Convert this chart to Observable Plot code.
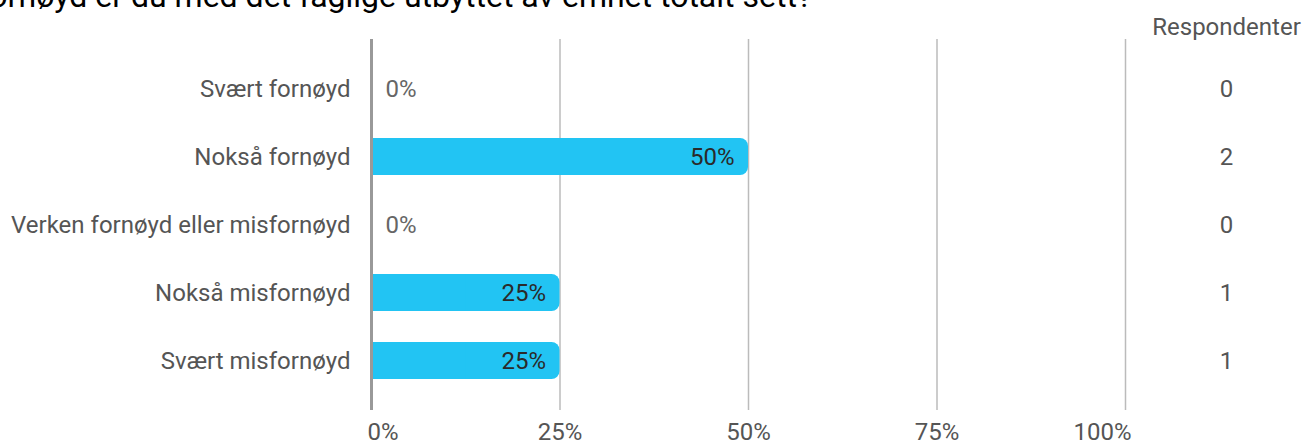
<!DOCTYPE html>
<html>
<head>
<meta charset="utf-8">
<script src="https://cdn.jsdelivr.net/npm/d3@7"></script>
<script src="https://cdn.jsdelivr.net/npm/@observablehq/plot@0.6"></script>
<style>
  html, body { margin: 0; padding: 0; background: #fff; overflow: hidden; }
  #wrap { position: relative; width: 1303px; height: 442px; overflow: hidden; }
  #title {
    position: absolute; right: 491px; top: -20px;
    font-family: Roboto, sans-serif; font-size: 32px; line-height: 32px;
    color: #000; white-space: nowrap;
  }
  #chart { position: absolute; left: 0; top: 0; }
</style>
</head>
<body>
<div id="wrap">
  <div id="chart"></div>
  <div id="title">Hvor fornøyd er du med det faglige utbyttet av emnet totalt sett?</div>
</div>
<script>
const categories = ["Svært fornøyd", "Nokså fornøyd", "Verken fornøyd eller misfornøyd", "Nokså misfornøyd", "Svært misfornøyd"];
const shares = [0, 0.5, 0, 0.25, 0.25];
const respondents = [0, 2, 0, 1, 1];
const xTicks = [0, 0.25, 0.5, 0.75, 1];
const columnHeader = "Respondenter";

const data = categories.map((c, i) => ({category: c, share: shares[i], count: respondents[i]}));
const pct = v => Math.round(v * 100) + "%";
const barColor = "#22c4f3";

const chart = Plot.plot({
  width: 1303,
  height: 442,
  marginLeft: 371,
  marginRight: 178,
  marginTop: 39,
  marginBottom: 32,
  style: {fontFamily: "Roboto, sans-serif", fontSize: "24px", background: "transparent", overflow: "visible"},
  x: {domain: [0, 1], axis: null},
  y: {domain: categories, padding: 0.45, round: true, label: null},
  marks: [
    Plot.ruleX(xTicks.filter(t => t > 0), {stroke: "#bbb", strokeWidth: 1.5}),
    Plot.barX(data.filter(d => d.share > 0), {x: "share", y: "category", fill: barColor, rx: 8}),
    Plot.barX(data.filter(d => d.share > 0), {x: d => d.share / 2, y: "category", fill: barColor}),
    Plot.ruleX([0], {stroke: "#999", strokeWidth: 3}),
    Plot.axisY({tickSize: 0, tickPadding: 21, color: "#555", fontSize: 24, label: null}),
    Plot.text(data.filter(d => d.share > 0), {x: "share", y: "category", text: d => pct(d.share), textAnchor: "end", dx: -14, fill: "#2a2a2a", fontSize: 24}),
    Plot.text(data.filter(d => d.share === 0), {x: "share", y: "category", text: d => pct(d.share), textAnchor: "start", dx: 14, fill: "#666", fontSize: 24}),
    Plot.text(data, {y: "category", frameAnchor: "right", dx: 101, text: d => String(d.count), textAnchor: "middle", fill: "#555", fontSize: 24}),
    Plot.text([columnHeader], {frameAnchor: "top-right", dx: 101, dy: -12, text: d => d, textAnchor: "middle", lineAnchor: "middle", fill: "#555", fontSize: 24}),
    Plot.text(xTicks.slice(1, -1), {x: d => d, frameAnchor: "bottom", dy: 12, lineAnchor: "top", text: pct, textAnchor: "middle", fill: "#555", fontSize: 24}),
    Plot.text(xTicks.slice(0, 1), {x: d => d, frameAnchor: "bottom", dy: 12, dx: -4, lineAnchor: "top", text: pct, textAnchor: "start", fill: "#555", fontSize: 24}),
    Plot.text(xTicks.slice(-1), {x: d => d, frameAnchor: "bottom", dy: 12, dx: 6, lineAnchor: "top", text: pct, textAnchor: "end", fill: "#555", fontSize: 24})
  ]
});
document.getElementById("chart").appendChild(chart);
</script>
</body>
</html>
